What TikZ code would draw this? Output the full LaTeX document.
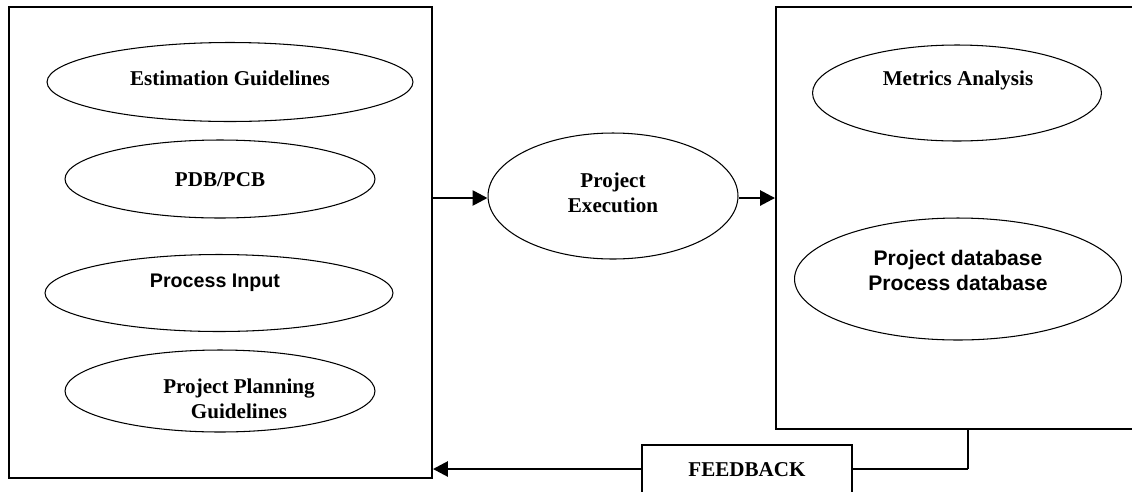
\documentclass[tikz,border=0pt]{standalone}
\usepackage{fontspec}
\setmainfont{Liberation Serif}
\newfontfamily\arialb{Liberation Sans}
\usetikzlibrary{shapes.geometric,arrows.meta}
\begin{document}
\begin{tikzpicture}[x=0.02cm,y=-0.02cm,
  oval/.style={draw,ellipse,line width=0.6pt,inner sep=0pt},
  lbl/.style={font=\fontsize{12}{14.2}\selectfont\bfseries,align=center,inner sep=0pt},
  sanslbl/.style={font=\fontsize{12}{14.2}\selectfont\arialb\bfseries,align=center,inner sep=0pt},
  frame/.style={draw,line width=1.1pt,rectangle,inner sep=0pt},
  flow/.style={line width=1.5pt,-{Triangle[length=0.3cm,width=0.3cm]}},
  link/.style={line width=0.9pt}]
\useasboundingbox (0,0) rectangle (1132,491);
\clip (0,0) rectangle (1132,491);
% containers
\node[frame,minimum width=8.46cm,minimum height=9.42cm] (L) at (220.5,242.5) {};
\node[frame,minimum width=7.48cm,minimum height=8.44cm] (R) at (963,218) {};
% left ellipses
\node[oval,minimum width=7.32cm,minimum height=1.58cm] (est) at (230,82) {};
\node[lbl] (estT) at (230,78) {Estimation Guidelines};
\node[oval,minimum width=6.2cm,minimum height=1.56cm] (pdb) at (220,179) {};
\node[lbl] (pdbT) at (220,180) {PDB/PCB};
\node[oval,minimum width=6.96cm,minimum height=1.54cm] (pin) at (219,293) {};
\node[sanslbl,font=\fontsize{11.2}{13}\selectfont\arialb\bfseries] (pinT) at (215,283) {Process Input};
\node[oval,minimum width=6.2cm,minimum height=1.64cm] (ppg) at (220,391) {};
\node[lbl] (ppgT) at (239,399) {Project Planning\\Guidelines};
% execution
\node[oval,minimum width=5.0cm,minimum height=2.52cm] (E) at (613,196) {};
\node[lbl] (ET) at (613,193) {Project\\Execution};
% right ellipses
\node[oval,minimum width=5.78cm,minimum height=1.92cm] (met) at (957,93) {};
\node[lbl] (metT) at (958,80) {Metrics Analysis};
\node[oval,minimum width=6.54cm,minimum height=2.44cm] (db) at (958,279) {};
\node[sanslbl] (dbT) at (958,270) {Project database\\Process database};
% feedback
\node[draw,line width=0.8pt,minimum width=4.2cm,minimum height=0.96cm,inner sep=0pt] (FB) at (747,469) {};
\node[lbl] (FBT) at (747,470) {FEEDBACK};
% connectors
\draw[flow] (L.east |- 0,198) -- (E.west |- 0,198);
\draw[flow] (E.east |- 0,198) -- (R.west |- 0,198);
\coordinate (drop) at (968,429);
\draw[line width=1.1pt] (drop) -- (drop |- FB.east);
\draw[link] (drop |- FB.east) -- (FB.east);
\draw[flow] (FB.west) -- (FB.west -| L.east);
\end{tikzpicture}
\end{document}
